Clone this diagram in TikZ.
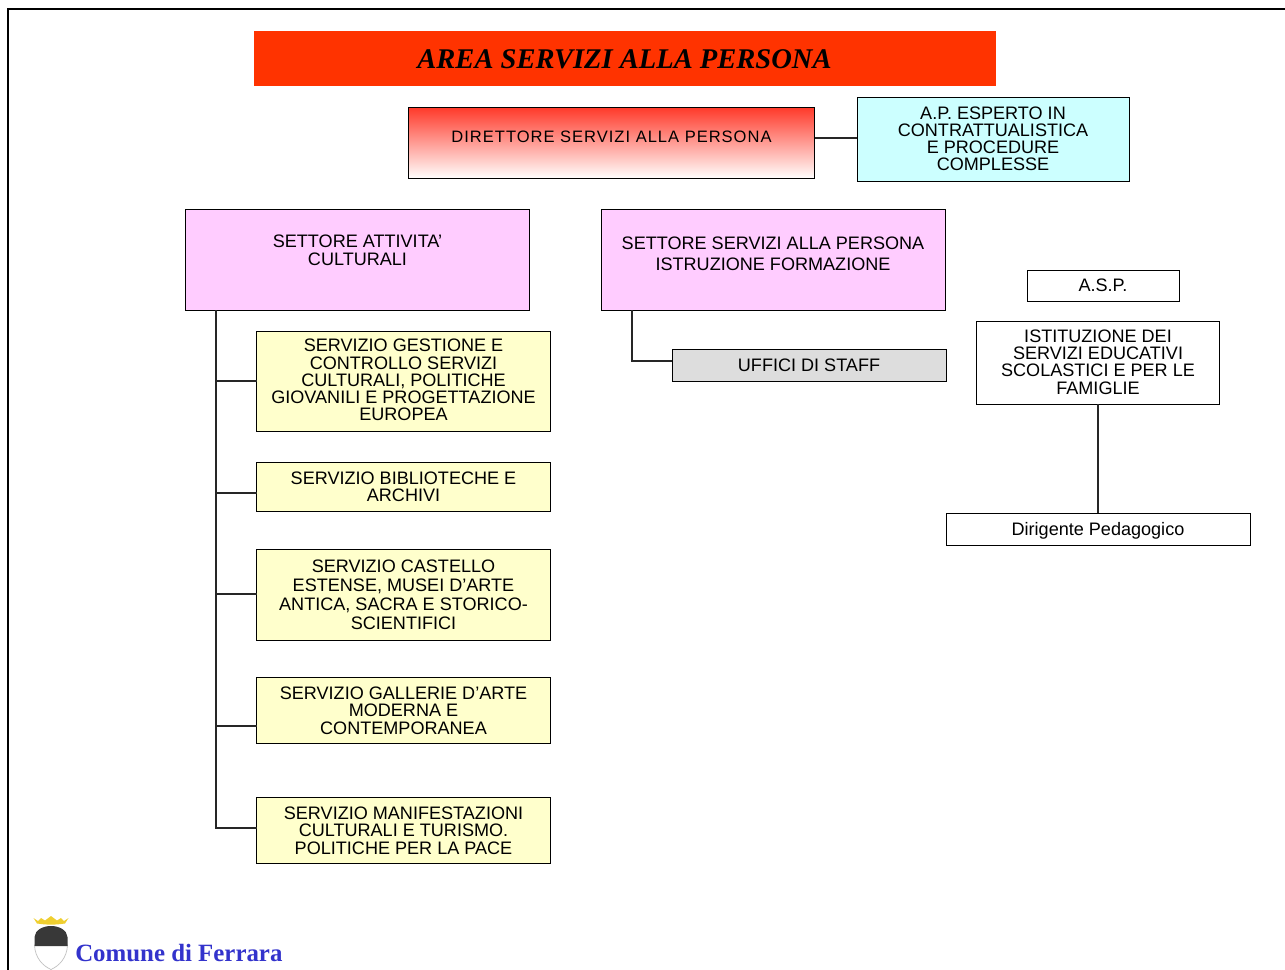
\documentclass[tikz,border=0pt]{standalone}
\usepackage{fontspec}
\setmainfont{Liberation Sans}
\newfontfamily\timesf{Liberation Serif}
\definecolor{lemon}{HTML}{FFFFCC}
\definecolor{pinkbox}{HTML}{FFCCFF}
\definecolor{cyanbox}{HTML}{CCFFFF}
\definecolor{greybox}{HTML}{DDDDDD}
\definecolor{titlered}{HTML}{FF3300}
\definecolor{dirred}{HTML}{FF3A2A}
\definecolor{bluetext}{HTML}{3333CC}
\definecolor{crowny}{HTML}{EFCF30}
\tikzset{
  px/.style={x=0.75pt,y=-0.75pt},
  box/.style={draw=black,line width=0.7pt,inner sep=0pt,outer sep=0pt,align=center,font=\fontsize{13.55}{12.9}\selectfont,text depth=0pt},
  sized/.style n args={2}{minimum width=#1*0.75pt,minimum height=#2*0.75pt},
  wide/.style={font=\fontsize{13.55}{14.4}\selectfont},
  conn/.style={draw=black!85,line width=0.85pt},
}
\begin{document}
\begin{tikzpicture}[px]
\useasboundingbox (0,0) rectangle (1285,970);
\fill[white] (0,0) rectangle (1285,970);
\draw[black,line width=1.5pt] (8,970) -- (8,9.5) -- (1285,9.5);
\node[fill=titlered,inner sep=0pt,outer sep=0pt,sized={742}{55}] (title) at (625,58.5) {};
\node[inner sep=0pt,font=\timesf\fontsize{21.4}{24}\selectfont\bfseries\itshape] (titlelab) at (624.5,59.5) {AREA SERVIZI ALLA PERSONA};
\node[box,sized={406}{71},top color=dirred,bottom color=white,draw=black] (dir) at (611.5,143) {};
\node[inner sep=0pt,font=\fontsize{12.4}{14}\selectfont] (dirlab) at (611.5,137) {\addfontfeature{LetterSpace=6}DIRETTORE SERVIZI ALLA PERSONA};
\node[box,fill=cyanbox,sized={272}{84}] (ap) at (993,139) {};
\node[inner sep=0pt,align=center,font=\fontsize{13.55}{12.75}\selectfont] (aplab) at (993,138.5) {A.P. ESPERTO IN\\CONTRATTUALISTICA\\E PROCEDURE\\COMPLESSE};
\node[box,fill=pinkbox,sized={344}{101}] (sa) at (357.5,259.5) {};
\node[font=\fontsize{13.55}{13.6}\selectfont,align=center,inner sep=0pt] (salab) at (357.5,250) {SETTORE ATTIVITA’\\CULTURALI};
\node[box,fill=pinkbox,sized={344}{101}] (sb) at (773,259.5) {};
\node[font=\fontsize{13.55}{15.75}\selectfont,align=center,inner sep=0pt] (sblab) at (773,253.5) {SETTORE SERVIZI ALLA PERSONA\\ISTRUZIONE FORMAZIONE};
\node[box,fill=lemon,sized={294}{100}] (s1) at (403.5,381) {};
\node[inner sep=0pt,align=center,font=\fontsize{13.55}{12.9}\selectfont] (s1lab) at (403.5,380) {SERVIZIO GESTIONE E\\CONTROLLO SERVIZI\\CULTURALI, POLITICHE\\GIOVANILI E PROGETTAZIONE\\EUROPEA};
\node[box,fill=lemon,sized={294}{49}] (s2) at (403.5,487) {SERVIZIO BIBLIOTECHE E\\ARCHIVI};
\node[box,fill=lemon,sized={294}{91},wide] (s3) at (403.5,594.5) {SERVIZIO CASTELLO\\ESTENSE, MUSEI D’ARTE\\ANTICA, SACRA E STORICO-\\SCIENTIFICI};
\node[box,fill=lemon,sized={294}{66}] (s4) at (403.5,710.5) {SERVIZIO GALLERIE D’ARTE\\MODERNA E\\CONTEMPORANEA};
\node[box,fill=lemon,sized={294}{66}] (s5) at (403.5,830.5) {SERVIZIO MANIFESTAZIONI\\CULTURALI E TURISMO.\\POLITICHE PER LA PACE};
\node[box,fill=greybox,sized={274}{32}] (st) at (809,365.5) {UFFICI DI STAFF};
\node[box,sized={152}{31}] (asp) at (1103,285.5) {A.S.P.};
\node[box,sized={243}{83}] (ist) at (1098,362.5) {};
\node[inner sep=0pt,align=center,font=\fontsize{13.55}{12.9}\selectfont] (istlab) at (1098,362) {ISTITUZIONE DEI\\SERVIZI EDUCATIVI\\SCOLASTICI E PER LE\\FAMIGLIE};
\node[box,sized={304}{32}] (dp) at (1098,529) {Dirigente Pedagogico};
% connectors
\draw[conn] (dir.east |- 0,138) -- (ap.west |- 0,138);
\coordinate (t0) at (216,310);
\coordinate (t1) at (216,381);
\coordinate (t2) at (216,493);
\coordinate (t3) at (216,594);
\coordinate (t4) at (216,726);
\coordinate (t5) at (216,828);
\draw[conn] (t0) -- (t5) -- (t5 -| s5.west);
\draw[conn] (t1) -- (t1 -| s1.west);
\draw[conn] (t2) -- (t2 -| s2.west);
\draw[conn] (t3) -- (t3 -| s3.west);
\draw[conn] (t4) -- (t4 -| s4.west);
\coordinate (u0) at (632,310);
\coordinate (u1) at (632,361);
\draw[conn] (u0) -- (u1) -- (u1 -| st.west);
\draw[conn] (ist.south) -- (dp.north);
% crest
\draw[black!25,line width=0.5pt,fill=white] (34.5,945) .. controls (35,958) and (43,966) .. (51,969.5) .. controls (59,966) and (67,958) .. (67.5,945) -- cycle;
\fill[black!78] (34.5,946) -- (34.5,937) .. controls (35,930) and (43,926) .. (51,926) .. controls (59,926) and (67,930) .. (67.5,937) -- (67.5,946) -- cycle;
\fill[crowny] (33.5,918) -- (38,921) -- (41,918) -- (45,920.5) -- (51,916) -- (57,920.5) -- (61,918) -- (64,921) -- (68.5,918) -- (65,923.5) .. controls (55,925) and (47,925) .. (37,923.5) -- cycle;
\node[anchor=base west,inner sep=0pt,text=bluetext,font=\timesf\fontsize{18.65}{20}\selectfont\bfseries] (cf) at (75,961.5) {Comune di Ferrara};
\end{tikzpicture}
\end{document}
